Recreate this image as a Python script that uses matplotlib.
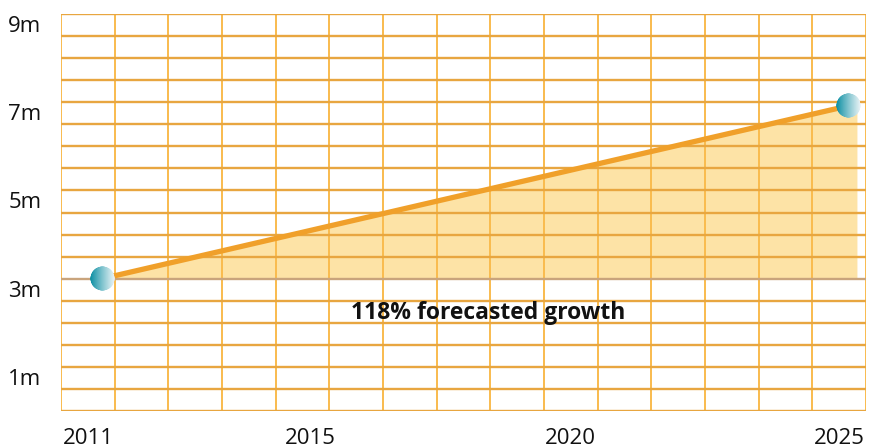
import numpy as np
import matplotlib.pyplot as plt
import matplotlib.transforms as mtransforms
from matplotlib.offsetbox import OffsetImage, AnnotationBbox

plt.rcParams['font.family'] = ['Open Sans', 'DejaVu Sans']

# data
years = [2011, 2025]
values = [3.0, 6.92]
ytick_vals = [1, 3, 5, 7, 9]
ytick_labels = ['1m', '3m', '5m', '7m', '9m']
xtick_vals = [2011, 2015, 2020, 2025]
xtick_labels = ['2011', '2015', '2020', '2025']
note = '118% forecasted growth'

fig = plt.figure(figsize=(8.76, 4.48), dpi=100)
ax = fig.add_axes([61 / 876, 37 / 448, 805 / 876, 397 / 448])
ax.set_xlim(2010.23, 2025.32)
ax.set_ylim(0, 9)

# grid
x0, x1 = ax.get_xlim()
for k in range(16):
    ax.axvline(x0 + k * (x1 - x0) / 15, color='#f9bb4e', lw=1.4, zorder=1)
for k in range(19):
    yv = k * 0.5
    col = '#c9a47c' if yv == 3 else '#e8a640'
    ax.axhline(yv, color=col, lw=1.7, zorder=1)

# fill + line
xf = [years[0], years[1] + 0.15]
yf = [values[0], values[1] + (values[1] - values[0]) / 14 * 0.15]
ax.fill_between(xf, values[0], yf, color='#fde3a6', lw=0, zorder=0.5)
ax.plot(years, values, color='#f0a02a', lw=3.8, solid_capstyle='butt', zorder=3)

# sphere markers
n = 64
yy, xx = np.mgrid[-1:1:n * 1j, -1:1:n * 1j]
r = np.sqrt(xx ** 2 + yy ** 2)
t = np.clip((xx + 1) / 2, 0, 1) ** 0.9
dark = np.array([0.02, 0.55, 0.63])
light = np.array([0.93, 0.96, 0.97])
img = np.zeros((n, n, 4))
for c in range(3):
    img[..., c] = dark[c] + (light[c] - dark[c]) * t
img[..., 3] = np.clip((1 - r) * n / 2, 0, 1)
for xv, yv in zip(years, values):
    ab = AnnotationBbox(OffsetImage(img, zoom=25 / n, dpi_cor=False), (xv, yv),
                        frameon=False, zorder=5)
    ax.add_artist(ab)

ax.text(2018.23, 2.22, note, fontsize=16.5, fontweight='bold', ha='center',
        va='center', color='#111111', zorder=4)

for s in ax.spines.values():
    s.set_visible(False)

ax.set_yticks(ytick_vals)
ax.set_yticklabels(ytick_labels, fontsize=16, color='#111111')
ax.set_xticks(xtick_vals)
ax.set_xticklabels(xtick_labels, fontsize=16, color='#111111')
ax.tick_params(length=0, axis='y', pad=14)
ax.tick_params(length=0, axis='x', pad=12)

off = mtransforms.ScaledTranslation(0, -10 / 100, fig.dpi_scale_trans)
for lab in ax.get_yticklabels():
    lab.set_transform(lab.get_transform() + off)
shifts = [-14, -5, -12, -10]
for lab, dx in zip(ax.get_xticklabels(), shifts):
    lab.set_transform(lab.get_transform() +
                      mtransforms.ScaledTranslation(dx / 100, 0, fig.dpi_scale_trans))

fig.savefig('out.png', dpi=100)
